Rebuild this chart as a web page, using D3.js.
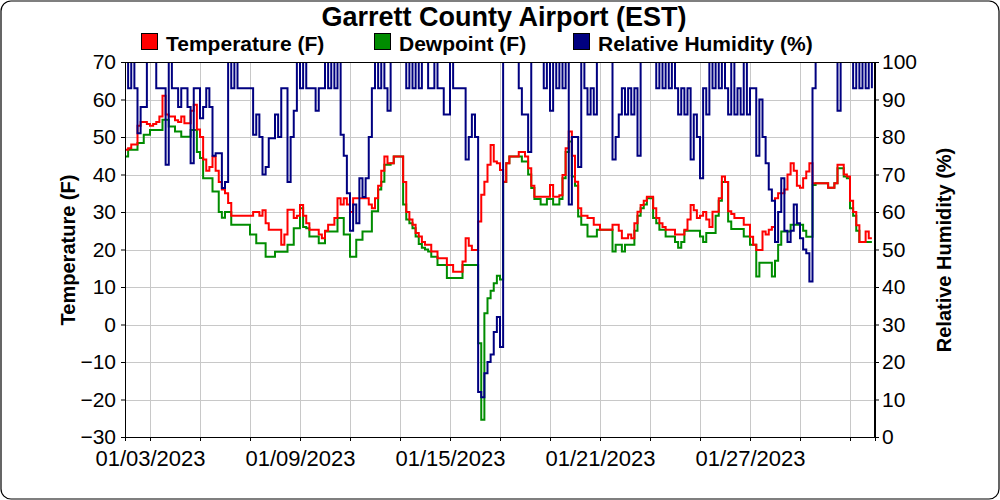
<!DOCTYPE html>
<html><head><meta charset="utf-8">
<script src="https://cdn.jsdelivr.net/npm/d3@7"></script>
<style>body{margin:0;background:#fff}svg{display:block;font-family:"Liberation Sans",Arial,sans-serif}</style>
</head><body><svg id="c" width="1000" height="500"></svg>
<script>
// 3-hourly observations starting 2023-01-02 00:00
const startTime = "2023-01-02T00:00:00Z";
const stepHours = 3;
const temperature = [
46.6,47,48,48,53,54,54,53.5,
53,53.5,54,55.5,61,56,55.5,55.5,
54.5,54,55.5,53.7,53.7,57,58.6,52,
50,44,41,42,44.8,41,38,36,
35,32.4,29,29,29,29,29,29,
29,30,30,29,30.5,27,25.3,25.3,
25.3,25.3,21.3,24,30.6,30.6,28.4,29,
31.9,29,27,25.3,25.3,25.3,24,23,
25,26.6,26.6,28.4,33.7,32,33.7,32,
30,33.7,33.7,33.7,33.7,33.7,32,31,
33.7,37,41,44.8,43,43,44.8,44.8,
44.8,38,30,28,26.6,24.4,23.5,22,
21.3,21.3,19.5,19.5,17.7,17.7,17.7,15.9,
15.9,14.1,14.1,14.1,16.8,23,21,19.9,
19.9,27.5,34.6,38.1,42.6,47.9,43.5,43,
41.2,38.1,43,44.8,44.8,44.8,46,46,
44.8,41.7,37,34.1,34.1,34.1,34.1,34.1,
37.2,34.1,34.1,34.5,39.9,47,51.5,45,
38.1,31,29,29,28.4,28.4,26.6,26.6,
25.3,25.3,25.3,25.3,26.6,26.6,25,23,
23,24,23,27,30.1,31.9,33,34.1,
34.1,31,28.4,27,26,25.3,25.3,25.3,
24,24,24,25.3,28,31.9,30.5,28.4,
29,30,28,26,30.1,30.1,33.7,39.5,
38,30.2,29.5,28.4,28.4,28.4,26.6,26.6,
23.4,21.3,19.9,19.9,24.8,24,25.3,26,
33.7,35,35,36,40,43,41,37,
36.5,39,40.8,43,37.7,37.7,37.7,37.7,
37.7,36.5,36.5,37.7,42.6,42.6,40,39.5,
33,30,26.5,22,22,24.8,23,23
];
const dewpoint = [
44.8,46.6,46.6,46.6,48.4,48.4,50.6,50.6,
51.9,51.9,51.9,51.9,54.6,54.6,52.8,52.8,
51.5,51.5,50.1,50.1,50.1,51.9,51.9,46,
44.4,39,39,39,35.5,35.5,30,28.5,
30,30,26.6,26.6,26.6,26.6,26.6,26.6,
24,24,21.7,21.7,21.7,18.1,18.1,18.1,
19.4,19.4,19.4,19.4,21.3,21.3,25.7,25.7,
31,26,25.7,23.5,23.5,23.5,21.7,21.7,
24.8,24.8,24.8,24.8,28.4,28.4,24,24,
18.1,18.1,22.6,22.6,24.8,24.8,24.8,30.2,
30.2,36,38.1,42.6,42.6,43,44.8,44.8,
44.8,32,28,27,25.7,23.5,21.5,20.5,
20,19.5,18.1,18.1,15.9,15.9,15.9,12.4,
12.4,12.4,12.4,12.4,15.9,15.9,15.9,15.9,
15.9,-5,-25.4,3,7,9,11,13,
12,38,43,44.8,44.8,44.8,44.8,43.5,
43.5,40,36.4,33.5,33.5,32,32,33.5,
33.5,32,32,33.5,39,46,48.8,39.5,
37,28.8,26.6,26.6,23.5,23.5,23.5,25.3,
25.3,25.3,25.3,25.3,19.5,21.3,21.3,19.5,
21.3,21.3,21.3,25,29,31,32,33.7,
33.7,28.4,27,25.3,25.3,23.5,23.5,23.5,
22,20.5,22,25,25,25,25,25,
23.5,22,24.4,24.4,24.4,29,33,38,
38,27.5,25.5,25.5,25.5,25.5,23.5,23.5,
21.3,21.3,12.8,16.5,16.5,16.5,16.5,12.8,
17,21.3,24.8,24.8,24.8,26.6,26.6,26.6,
26.6,25,23.4,23.4,37.2,37.7,37.7,37.7,
37.7,36.5,36.5,37.7,41.7,41.7,39.5,39,
31,29,25,22,22,22,22,22
];
const humidity = [
100,93,100,93,81,88,88,100,
100,100,93,93,93,72.6,100,93,
93,88,93,93,88,73,93,93,
85,88,93,88,75,75.7,75.7,66.4,
68,100,93,100,93,93,93,93,
93,80.6,86,80,70,72,79.7,79.7,
86,80,93,93,68,80,87,100,
93,100,93,93,93,87,93,93,
100,93,100,93,100,80.6,75,65,
55,62,57,69,64,69,80,93,
100,93,100,93,87,100,100,100,
100,100,93,100,93,100,93,100,
100,93,93,100,93,93,86,86,
100,93,93,93,93,74,80,86,
80,12,10.6,17,20,22,28,32,
24,100,100,100,100,100,93,86,
86,76,100,100,100,100,93,100,
87,100,93,100,93,100,62,80,
80,72,100,93,86,93,86,100,
100,100,100,100,74,80,86,93,
86,93,86,93,75,100,100,100,
100,100,93,100,93,100,93,100,
93,86,93,86,93,74,86,80,
69,93,86,100,93,100,93,100,
93,86,100,86,93,86,100,86,
93,93,75,90,80,73,66,63,
52,60,69,55,52,55,62,57,
53,50,49,41.5,93,100,100,100,
100,100,100,100,87,100,100,100,
100,93,100,93,100,93,100,93
];
const tempTicks = [-30,-20,-10,0,10,20,30,40,50,60,70];
const rhTicks = [0,10,20,30,40,50,60,70,80,90,100];
const dateTicks = ["2023-01-03","2023-01-05","2023-01-07","2023-01-09","2023-01-11","2023-01-13","2023-01-15","2023-01-17","2023-01-19","2023-01-21","2023-01-23","2023-01-25","2023-01-27","2023-01-29","2023-01-31"];
const dateLabels = {"2023-01-03":"01/03/2023","2023-01-09":"01/09/2023","2023-01-15":"01/15/2023","2023-01-21":"01/21/2023","2023-01-27":"01/27/2023"};
const seriesNames = ["Temperature (F)","Dewpoint (F)","Relative Humidity (%)"];
const seriesColors = ["#ff0000","#008c00","#000080"];

const svg = d3.select("#c");
const M = {l:125, r:875, t:62, b:437};
const t0 = Date.parse(startTime);
const timeOf = i => new Date(t0 + i*stepHours*3600e3);
const x = d3.scaleUtc().domain([new Date("2023-01-02T00:00:00Z"), new Date("2023-02-01T00:00:00Z")]).range([M.l, M.r]);
const y = d3.scaleLinear().domain([-30,70]).range([M.b, M.t]);
const y2 = d3.scaleLinear().domain([0,100]).range([M.b, M.t]);
const tickDates = dateTicks.map(s => new Date(s+"T00:00:00Z"));

svg.append("rect").attr("x",1).attr("y",1).attr("width",998).attr("height",498).attr("rx",10)
  .attr("fill","#fff").attr("stroke","#000").attr("stroke-width",1.2);

// grid
const g = svg.append("g").attr("stroke","#c8c8c8").attr("stroke-width",1).attr("shape-rendering","crispEdges");
g.selectAll("line.h").data(tempTicks).join("line").attr("x1",M.l).attr("x2",M.r)
  .attr("y1",d=>Math.round(y(d))+0.5).attr("y2",d=>Math.round(y(d))+0.5);
g.selectAll("line.v").data(tickDates).join("line").attr("y1",M.t).attr("y2",M.b)
  .attr("x1",d=>Math.round(x(d))+0.5).attr("x2",d=>Math.round(x(d))+0.5);

svg.append("clipPath").attr("id","clip").append("rect").attr("x",M.l).attr("y",M.t).attr("width",M.r-M.l).attr("height",M.b-M.t);
const plot = svg.append("g").attr("clip-path","url(#clip)");
const mk = (sc, arr) => d3.line().curve(d3.curveStepAfter).x((d,i)=>x(timeOf(i))).y(d=>sc(d))(arr);
plot.append("path").attr("d",mk(y,dewpoint)).attr("fill","none").attr("stroke",seriesColors[1]).attr("stroke-width",2);
plot.append("path").attr("d",mk(y,temperature)).attr("fill","none").attr("stroke",seriesColors[0]).attr("stroke-width",2);
plot.append("path").attr("d",mk(y2,humidity)).attr("fill","none").attr("stroke",seriesColors[2]).attr("stroke-width",2);

// frame
svg.append("rect").attr("x",M.l+0.5).attr("y",M.t+0.5).attr("width",M.r-M.l-1).attr("height",M.b-M.t)
  .attr("fill","none").attr("stroke","#000").attr("shape-rendering","crispEdges");

const ax1 = svg.append("g").attr("transform",`translate(${M.l},0)`)
  .call(d3.axisLeft(y).tickValues(tempTicks).tickSize(4).tickPadding(5).tickFormat(d3.format("d")));
const ax2 = svg.append("g").attr("transform",`translate(${M.r},0)`)
  .call(d3.axisRight(y2).tickValues(rhTicks).tickSize(4).tickPadding(3).tickFormat(d3.format("d")));
const ax3 = svg.append("g").attr("transform",`translate(0,${M.b})`)
  .call(d3.axisBottom(x).tickValues(tickDates).tickSize(4).tickPadding(9)
    .tickFormat(d => dateLabels[d.toISOString().slice(0,10)] || ""));
[ax1,ax2,ax3].forEach(a=>{
  a.select(".domain").attr("stroke","#000");
  a.selectAll(".tick line").attr("stroke","#000");
  a.selectAll("text").attr("font-size","21px").attr("fill","#000").attr("font-family",'"Liberation Sans",Arial,sans-serif');
});
ax3.selectAll("text").attr("font-size","22px");

// titles
svg.append("text").attr("x",504).attr("y",26).attr("text-anchor","middle")
  .attr("font-size","27px").attr("font-weight","bold").text("Garrett County Airport (EST)");
svg.append("text").attr("transform","translate(75,250) rotate(-90)").attr("text-anchor","middle")
  .attr("font-size","20px").attr("font-weight","bold").text("Temperature (F)");
svg.append("text").attr("transform","translate(951,250) rotate(-90)").attr("text-anchor","middle")
  .attr("font-size","20px").attr("font-weight","bold").text("Relative Humidity (%)");

// legend
const legX = [141, 374, 573];
const lg = svg.append("g");
seriesNames.forEach((n,i)=>{
  lg.append("rect").attr("x",legX[i]+0.5).attr("y",33.5).attr("width",16).attr("height",16)
    .attr("fill",seriesColors[i]).attr("stroke","#000");
  lg.append("text").attr("x",legX[i]+25).attr("y",50.5).attr("font-size","21px").attr("font-weight","bold").text(n);
});
</script></body></html>
